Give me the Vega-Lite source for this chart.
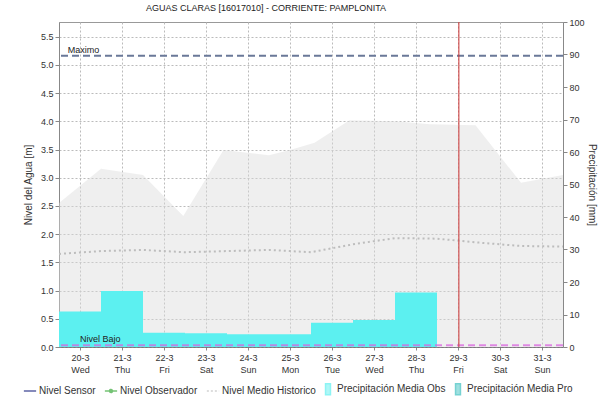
{
  "$schema": "https://vega.github.io/schema/vega-lite/v6.json",
  "width": 504,
  "height": 325,
  "autosize": "none",
  "padding": {"left": 59, "top": 22, "right": 48, "bottom": 54},
  "background": "white",
  "title": {"text": "AGUAS CLARAS [16017010] - CORRIENTE: PAMPLONITA", "font": "Liberation Sans", "fontSize": 9, "fontWeight": "normal", "color": "#222", "anchor": "middle", "dx": -45, "offset": 5},
  "config": {
    "font": "Liberation Sans",
    "view": {"stroke": "#999", "strokeWidth": 1},
    "axis": {"labelFont": "Liberation Sans", "labelFontSize": 9, "labelColor": "#333", "titleFont": "Liberation Sans", "titleFontSize": 10, "titleFontWeight": "normal", "titleColor": "#333", "domainColor": "#888", "tickColor": "#888", "tickSize": 4, "gridColor": "#bbbbbb", "gridDash": [2, 2]}
  },
  "datasets": {
    "maxhist": [
      {"fecha": "2024-03-19T12:00:00", "nivel": 2.55},
      {"fecha": "2024-03-20T12:00:00", "nivel": 3.16},
      {"fecha": "2024-03-21T12:00:00", "nivel": 3.05},
      {"fecha": "2024-03-22T11:00:00", "nivel": 2.32},
      {"fecha": "2024-03-23T10:00:00", "nivel": 3.49},
      {"fecha": "2024-03-24T12:00:00", "nivel": 3.40},
      {"fecha": "2024-03-25T00:00:00", "nivel": 3.49},
      {"fecha": "2024-03-25T14:00:00", "nivel": 3.62},
      {"fecha": "2024-03-26T10:00:00", "nivel": 4.02},
      {"fecha": "2024-03-27T12:00:00", "nivel": 4.0},
      {"fecha": "2024-03-28T08:00:00", "nivel": 3.95},
      {"fecha": "2024-03-29T10:00:00", "nivel": 3.93},
      {"fecha": "2024-03-30T12:00:00", "nivel": 2.91},
      {"fecha": "2024-03-31T12:00:00", "nivel": 3.05}
    ],
    "medio": [
      {"fecha": "2024-03-19T12:00:00", "nivel": 1.65},
      {"fecha": "2024-03-20T12:00:00", "nivel": 1.70},
      {"fecha": "2024-03-21T12:00:00", "nivel": 1.72},
      {"fecha": "2024-03-22T12:00:00", "nivel": 1.68},
      {"fecha": "2024-03-23T12:00:00", "nivel": 1.70},
      {"fecha": "2024-03-24T12:00:00", "nivel": 1.72},
      {"fecha": "2024-03-25T12:00:00", "nivel": 1.68},
      {"fecha": "2024-03-26T12:00:00", "nivel": 1.82},
      {"fecha": "2024-03-27T12:00:00", "nivel": 1.93},
      {"fecha": "2024-03-28T12:00:00", "nivel": 1.92},
      {"fecha": "2024-03-29T12:00:00", "nivel": 1.85},
      {"fecha": "2024-03-30T12:00:00", "nivel": 1.79},
      {"fecha": "2024-03-31T12:00:00", "nivel": 1.78}
    ],
    "precip": [
      {"desde": "2024-03-19T12:00:00", "hasta": "2024-03-20T12:00:00", "mm": 10.9},
      {"desde": "2024-03-20T12:00:00", "hasta": "2024-03-21T12:00:00", "mm": 17.2},
      {"desde": "2024-03-21T12:00:00", "hasta": "2024-03-22T12:00:00", "mm": 4.4},
      {"desde": "2024-03-22T12:00:00", "hasta": "2024-03-23T12:00:00", "mm": 4.2},
      {"desde": "2024-03-23T12:00:00", "hasta": "2024-03-24T12:00:00", "mm": 3.9},
      {"desde": "2024-03-24T12:00:00", "hasta": "2024-03-25T12:00:00", "mm": 3.9},
      {"desde": "2024-03-25T12:00:00", "hasta": "2024-03-26T12:00:00", "mm": 7.5},
      {"desde": "2024-03-26T12:00:00", "hasta": "2024-03-27T12:00:00", "mm": 8.3},
      {"desde": "2024-03-27T12:00:00", "hasta": "2024-03-28T12:00:00", "mm": 16.8}
    ],
    "maximo": [{"nombre": "Maximo", "nivel": 5.16, "desde": "2024-03-19T17:00:00"}],
    "bajo": [{"nombre": "Nivel Bajo", "nivel": 0.03, "desde": "2024-03-20T00:00:00"}],
    "ahora": [{"fecha": "2024-03-29T00:30:00"}],
    "series": [
      {"serie": "Nivel Sensor"},
      {"serie": "Nivel Observador"},
      {"serie": "Nivel Medio Historico"},
      {"serie": "Precipitación Media Obs"},
      {"serie": "Precipitación Media Pro"}
    ]
  },
  "layer": [
    {
      "data": {"name": "maxhist"},
      "mark": {"type": "area", "color": "#dcdcdc", "opacity": 0.45},
      "encoding": {
        "x": {"field": "fecha", "type": "temporal",
          "scale": {"domain": [{"year": 2024, "month": 3, "date": 19, "hours": 12}, {"year": 2024, "month": 3, "date": 31, "hours": 12}]},
          "axis": {"title": null, "grid": true, "domainColor": "#555", "domainDash": [1, 1],
            "values": [{"year": 2024, "month": 3, "date": 20}, {"year": 2024, "month": 3, "date": 21}, {"year": 2024, "month": 3, "date": 22}, {"year": 2024, "month": 3, "date": 23}, {"year": 2024, "month": 3, "date": 24}, {"year": 2024, "month": 3, "date": 25}, {"year": 2024, "month": 3, "date": 26}, {"year": 2024, "month": 3, "date": 27}, {"year": 2024, "month": 3, "date": 28}, {"year": 2024, "month": 3, "date": 29}, {"year": 2024, "month": 3, "date": 30}, {"year": 2024, "month": 3, "date": 31}],
            "labelExpr": "[timeFormat(datum.value, '%-d-%-m'), timeFormat(datum.value, '%a')]",
            "labelLineHeight": 12, "labelPadding": 3, "tickSize": 3}},
        "y": {"field": "nivel", "type": "quantitative",
          "scale": {"domain": [0, 5.76], "nice": false},
          "axis": {"orient": "left", "title": "Nivel del Agua [m]", "grid": true, "values": [0, 0.5, 1, 1.5, 2, 2.5, 3, 3.5, 4, 4.5, 5, 5.5], "format": ".1f", "titlePadding": 7}}
      }
    },
    {
      "data": {"name": "precip"},
      "mark": {"type": "rect", "color": "#5cf0f0"},
      "encoding": {
        "x": {"field": "desde", "type": "temporal"},
        "x2": {"field": "hasta"},
        "y": {"field": "mm", "type": "quantitative",
          "scale": {"domain": [0, 100], "nice": false},
          "axis": {"orient": "right", "title": "Precipitación [mm]", "grid": false, "values": [0, 10, 20, 30, 40, 50, 60, 70, 80, 90, 100], "titlePadding": 2}}
      }
    },
    {
      "layer": [
        {
          "data": {"name": "medio"},
          "mark": {"type": "line", "color": "#bdbdbd", "strokeWidth": 2, "strokeDash": [2, 3]},
          "encoding": {
            "x": {"field": "fecha", "type": "temporal"},
            "y": {"field": "nivel", "type": "quantitative", "scale": {"domain": [0, 5.76], "nice": false}, "axis": null}
          }
        },
        {
          "data": {"name": "maximo"},
          "mark": {"type": "rule", "strokeWidth": 2, "strokeDash": [7, 4], "color": "#6a7898"},
          "encoding": {"y": {"field": "nivel", "type": "quantitative"}}
        },
        {
          "data": {"name": "bajo"},
          "mark": {"type": "rule", "strokeWidth": 2, "strokeDash": [7, 4], "color": "#d865dd", "opacity": 0.75},
          "encoding": {"y": {"field": "nivel", "type": "quantitative"}}
        },
        {
          "data": {"name": "maximo"},
          "mark": {"type": "text", "fontSize": 9, "align": "left", "baseline": "bottom", "dy": -1, "color": "#222"},
          "encoding": {"x": {"field": "desde", "type": "temporal"}, "y": {"field": "nivel", "type": "quantitative"}, "text": {"field": "nombre"}}
        },
        {
          "data": {"name": "bajo"},
          "mark": {"type": "text", "fontSize": 9, "align": "left", "baseline": "bottom", "dy": -1, "color": "#222"},
          "encoding": {"x": {"field": "desde", "type": "temporal"}, "y": {"field": "nivel", "type": "quantitative"}, "text": {"field": "nombre"}}
        },
        {
          "data": {"name": "ahora"},
          "mark": {"type": "rule", "color": "#cc3333", "strokeWidth": 1},
          "encoding": {"x": {"field": "fecha", "type": "temporal"}}
        }
      ]
    },
    {
      "data": {"name": "series"},
      "transform": [{"filter": "false"}],
      "mark": {"type": "point", "filled": true},
      "encoding": {
        "color": {"field": "serie", "type": "nominal",
          "scale": {"domain": ["Nivel Sensor", "Nivel Observador", "Nivel Medio Historico", "Precipitación Media Obs", "Precipitación Media Pro"], "range": ["#1a2380", "#3caa3c", "#c0c0c0", "#5cf0f0", "#3cc0c0"]},
          "legend": {"orient": "none", "legendX": -36, "legendY": 360, "direction": "horizontal", "columns": 5, "title": null, "symbolSize": 150, "symbolStrokeWidth": 1.5, "symbolOpacity": 1, "labelFont": "Liberation Sans", "labelFontSize": 10, "labelColor": "#333", "labelOffset": 2, "columnPadding": 5}},
        "stroke": {"field": "serie", "type": "nominal",
          "scale": {"domain": ["Nivel Sensor", "Nivel Observador", "Nivel Medio Historico", "Precipitación Media Obs", "Precipitación Media Pro"], "range": ["#1a2380", "#3caa3c", "#c0c0c0", "#5cf0f0", "#3cc0c0"]}},
        "shape": {"field": "serie", "type": "nominal",
          "scale": {"domain": ["Nivel Sensor", "Nivel Observador", "Nivel Medio Historico", "Precipitación Media Obs", "Precipitación Media Pro"], "range": ["M-1,0H1", "M-1,0H1M-0.25,0A0.25,0.25,0,1,1,0.25,0A0.25,0.25,0,1,1,-0.25,0", "M-1,0H1", "M-0.4,-0.9H0.4V0.9H-0.4Z", "M-0.4,-0.9H0.4V0.9H-0.4Z"]}},
        "strokeDash": {"field": "serie", "type": "nominal",
          "scale": {"domain": ["Nivel Sensor", "Nivel Observador", "Nivel Medio Historico", "Precipitación Media Obs", "Precipitación Media Pro"], "range": [[1, 0], [1, 0], [2, 2], [1, 0], [1, 0]]}}
      }
    }
  ],
  "resolve": {"scale": {"y": "independent"}}
}
